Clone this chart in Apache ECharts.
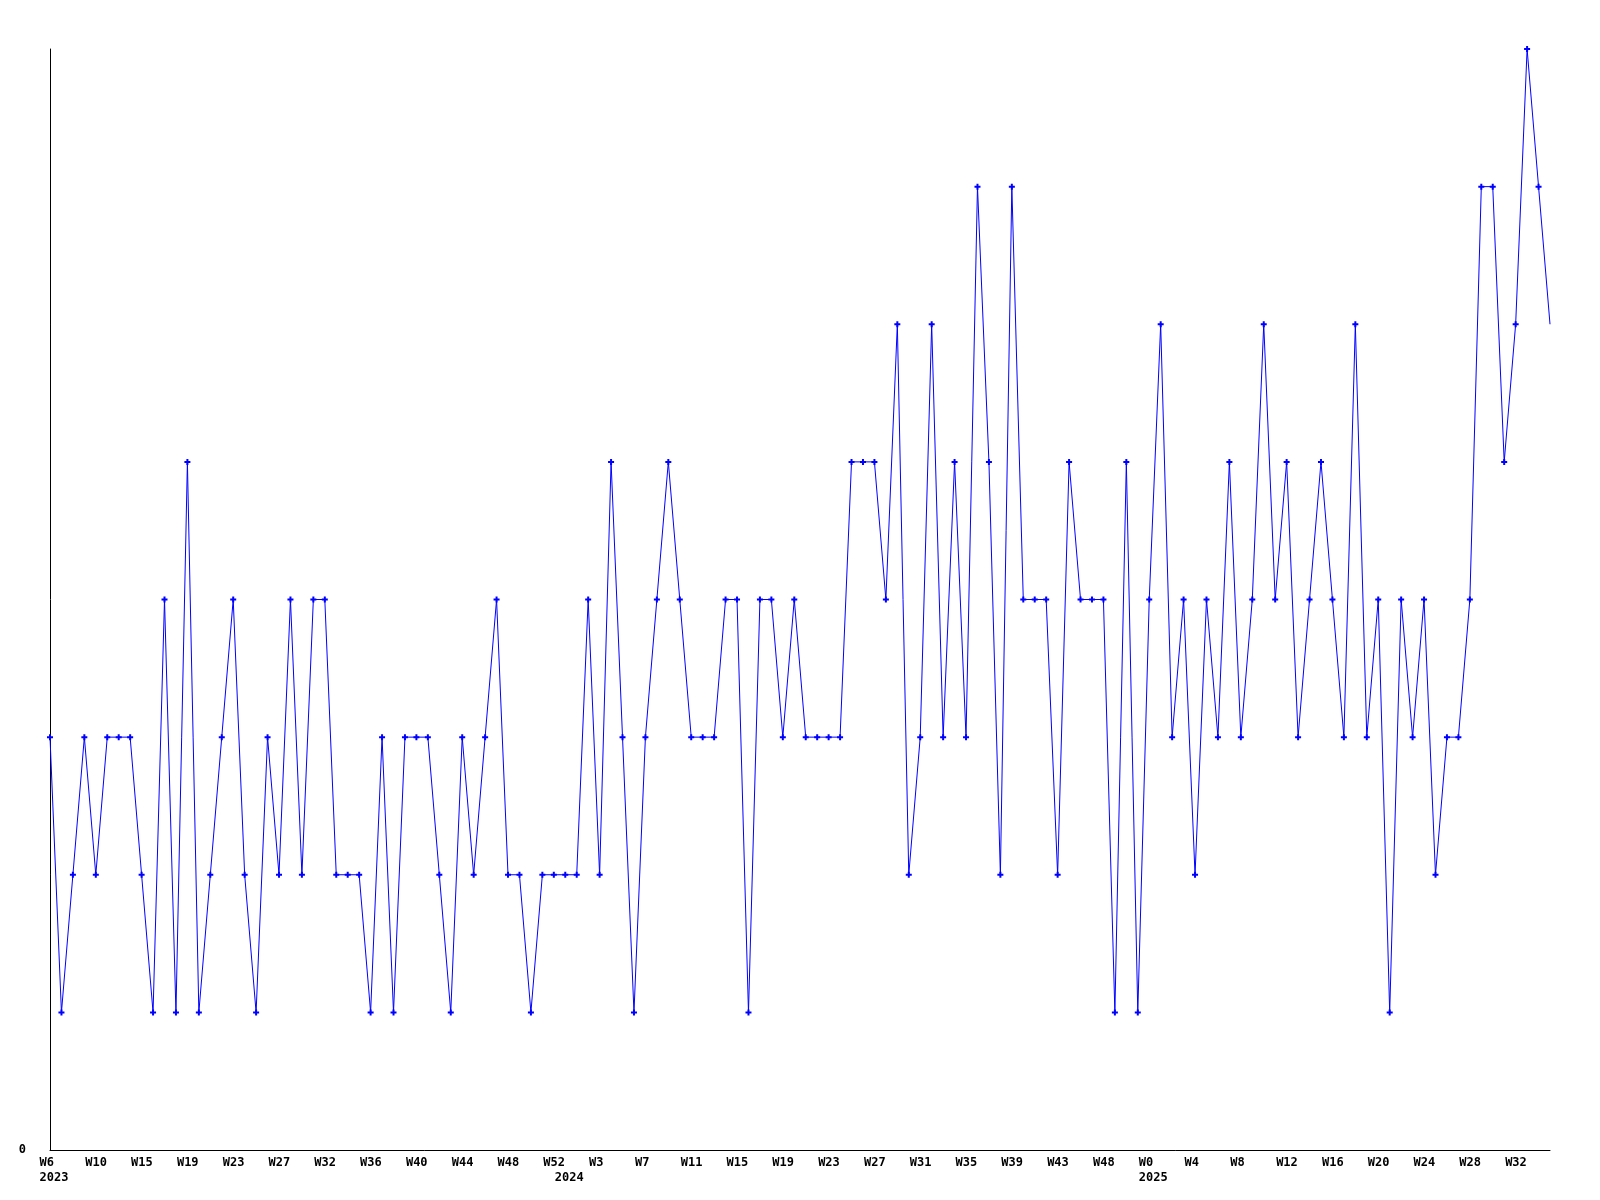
<!DOCTYPE html>
<html>
<head>
<meta charset="utf-8">
<style>
  html, body { margin: 0; padding: 0; background: #ffffff; }
  #chart { width: 1600px; height: 1200px; }
</style>
<script src="https://cdn.jsdelivr.net/npm/echarts@6/dist/echarts.min.js"></script>
</head>
<body>
<div id="chart"></div>
<script>
// weekly values, one per point
const values = [
  3,1,2,3,2,3,3,3,2,1,
  4,1,5,1,2,3,4,2,1,3,
  2,4,2,4,4,2,2,2,1,3,
  1,3,3,3,2,1,3,2,3,4,
  2,2,1,2,2,2,2,4,2,5,
  3,1,3,4,5,4,3,3,3,4,
  4,1,4,4,3,4,3,3,3,3,
  5,5,5,4,6,2,3,6,3,5,
  3,7,5,2,7,4,4,4,2,5,
  4,4,4,1,5,1,4,6,3,4,
  2,4,3,5,3,4,6,4,5,3,
  4,5,4,3,6,3,4,1,4,3,
  4,2,3,3,4,7,7,5,6,8,
  7,6
];
// one category per point
const categories = values.map((_, i) => 'p' + i);

// tick labels on the time axis (point index, week text, year text)
const tickIndex = [0,4,8,12,16,20,24,28,32,36,40,44,45,48,52,56,60,64,68,72,76,80,84,88,92,96,100,104,108,112,116,120,124,128];
const tickWeek  = ['W6','W10','W15','W19','W23','W27','W32','W36','W40','W44','W48','W52','','W3','W7','W11','W15','W19','W23','W27','W31','W35','W39','W43','W48','W0','W4','W8','W12','W16','W20','W24','W28','W32'];
const tickYear  = ['2023','','','','','','','','','','','','2024','','','','','','','','','','','','','2025','','','','','','','',''];

const yMin = 0, yMax = 8;

const FONT = '"DejaVu Sans Mono", "Liberation Mono", monospace';

const tickMap = {};
tickIndex.forEach((ix, k) => { tickMap[ix] = k; });

const seriesData = values.map((v, i) => (i === values.length - 1 ? { value: v, symbol: 'none' } : v));

const chart = echarts.init(document.getElementById('chart'), null, { renderer: 'canvas' });
chart.setOption({
  backgroundColor: '#ffffff',
  animation: false,
  grid: { left: 50, right: 50, top: 49, bottom: 50, containLabel: false },
  xAxis: {
    type: 'category',
    data: categories,
    boundaryGap: false,
    axisLine: { show: true, onZero: false, lineStyle: { color: '#000000', width: 1 } },
    axisTick: { show: false },
    splitLine: { show: false },
    axisLabel: {
      show: true,
      margin: 5,
      interval: function (index) { return tickMap[index] !== undefined; },
      formatter: function (val, index) {
        const k = tickMap[index];
        if (k === undefined) return '';
        const w = tickWeek[k] || ' ';
        const y = tickYear[k];
        return y ? '{w|' + w + '}\n{y|' + y + '}' : '{w|' + w + '}';
      },
      rich: {
        w: { width: 21, align: 'left', fontFamily: FONT, fontWeight: 'bold', fontSize: 12, lineHeight: 15, color: '#000000' },
        y: { width: 21, align: 'left', fontFamily: FONT, fontWeight: 'bold', fontSize: 12, lineHeight: 15, color: '#000000' }
      }
    }
  },
  yAxis: {
    type: 'value',
    min: yMin,
    max: yMax,
    interval: yMax - yMin,
    axisLine: { show: true, lineStyle: { color: '#000000', width: 1 } },
    axisTick: { show: false },
    splitLine: { show: false },
    axisLabel: {
      margin: 24,
      fontFamily: FONT,
      fontWeight: 'bold',
      fontSize: 12,
      color: '#000000',
      formatter: function (v) { return v === yMin ? String(v) : ''; }
    }
  },
  series: [{
    type: 'line',
    data: seriesData,
    showSymbol: true,
    showAllSymbol: true,
    symbol: 'path://M2,0H4V2H6V4H4V6H2V4H0V2H2Z',
    symbolSize: 6,
    itemStyle: { color: '#0000ff' },
    lineStyle: { color: '#0000ff', width: 1 },
    emphasis: { disabled: true }
  }]
});
</script>
</body>
</html>
